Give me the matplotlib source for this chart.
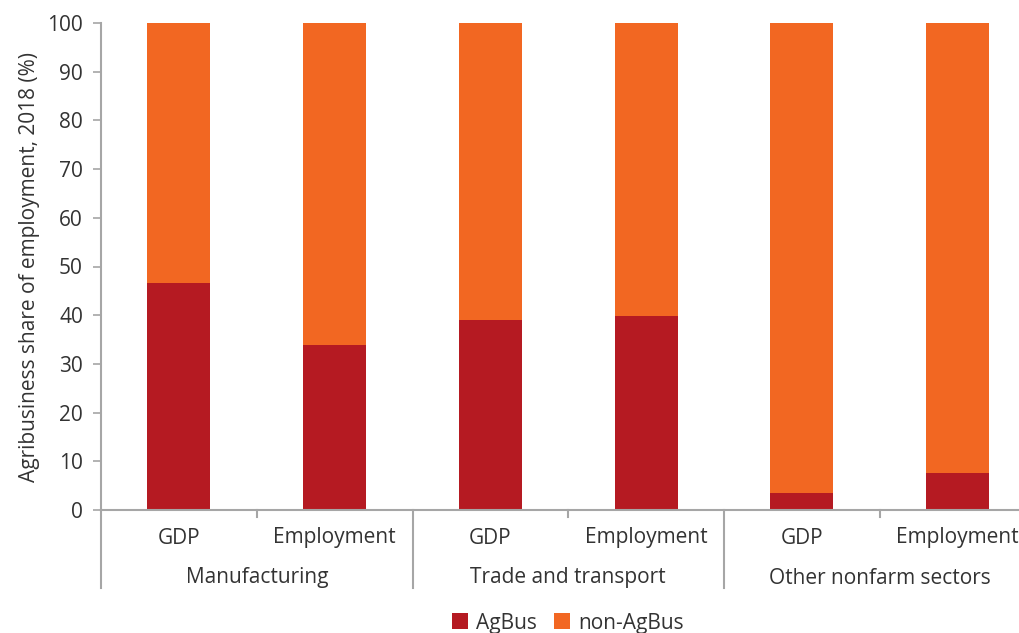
import matplotlib
matplotlib.use("Agg")
import matplotlib.pyplot as plt
import matplotlib.transforms as mtransforms
from matplotlib.patches import Patch

plt.rcParams['font.family'] = ['Open Sans', 'DejaVu Sans']

# Data
groups = ["Manufacturing", "Trade and transport", "Other nonfarm sectors"]
measures = ["GDP", "Employment"]
agbus = [46.6, 33.9, 39.0, 39.8, 3.5, 7.6]
non_agbus = [100 - v for v in agbus]
y_ticks = list(range(0, 101, 10))

RED = "#B51A22"
ORANGE = "#F26722"
GRAY = "#A6A6A6"
TEXT = "#333333"
FS = 15

W, H = 1020, 633
fig = plt.figure(figsize=(W / 100, H / 100), dpi=100)
left, right, bottom, top = 101, 1020, 510, 23
ax = fig.add_axes([left / W, (H - bottom) / H, (right - left) / W, (bottom - top) / H])

x = list(range(len(agbus)))
bw = 0.405
ax.bar(x, agbus, width=bw, color=RED, linewidth=0)
ax.bar(x, non_agbus, width=bw, bottom=agbus, color=ORANGE, linewidth=0)

ax.set_xlim(-0.5, 5.40)
ax.set_ylim(0, 100)
ax.set_yticks(y_ticks)
ax.tick_params(axis='y', direction='out', length=6, width=1.2, color=GRAY,
               labelsize=FS, labelcolor=TEXT, pad=7)
ax.set_xticks([])

for s in ["top", "right"]:
    ax.spines[s].set_visible(False)
for s in ["left", "bottom"]:
    ax.spines[s].set_color(GRAY)
    ax.spines[s].set_linewidth(1.5)

ax.set_ylabel("Agribusiness share of employment, 2018 (%)", fontsize=FS,
              color=TEXT, labelpad=5)

# Two-level category axis
trans = mtransforms.blended_transform_factory(ax.transData, ax.transAxes)
px = 1 / (bottom - top)
for i in range(len(agbus)):
    ax.text(i, -28 * px, measures[i % 2], transform=trans, ha='center',
            va='center', fontsize=FS, color=TEXT)
for g, name in enumerate(groups):
    ax.text(2 * g + 0.5, -68 * px, name, transform=trans, ha='center',
            va='center', fontsize=FS, color=TEXT)
    # separators between groups
    ax.plot([2 * g - 0.5, 2 * g - 0.5], [0, -78 * px], transform=trans,
            color=GRAY, lw=1.5, clip_on=False)
    # short tick between measures within a group
    ax.plot([2 * g + 0.5, 2 * g + 0.5], [0, -7 * px], transform=trans,
            color=GRAY, lw=1.5, clip_on=False)

handles = [Patch(facecolor=RED, edgecolor='none', label="AgBus"),
           Patch(facecolor=ORANGE, edgecolor='none', label="non-AgBus")]
fig.legend(handles=handles, loc='center', bbox_to_anchor=(568 / W, (H - 623) / H),
           ncol=2, frameon=False, fontsize=FS, handlelength=0.77,
           handleheight=0.77, handletextpad=0.4, columnspacing=0.8,
           labelcolor=TEXT)

fig.savefig("out.png", dpi=100)
